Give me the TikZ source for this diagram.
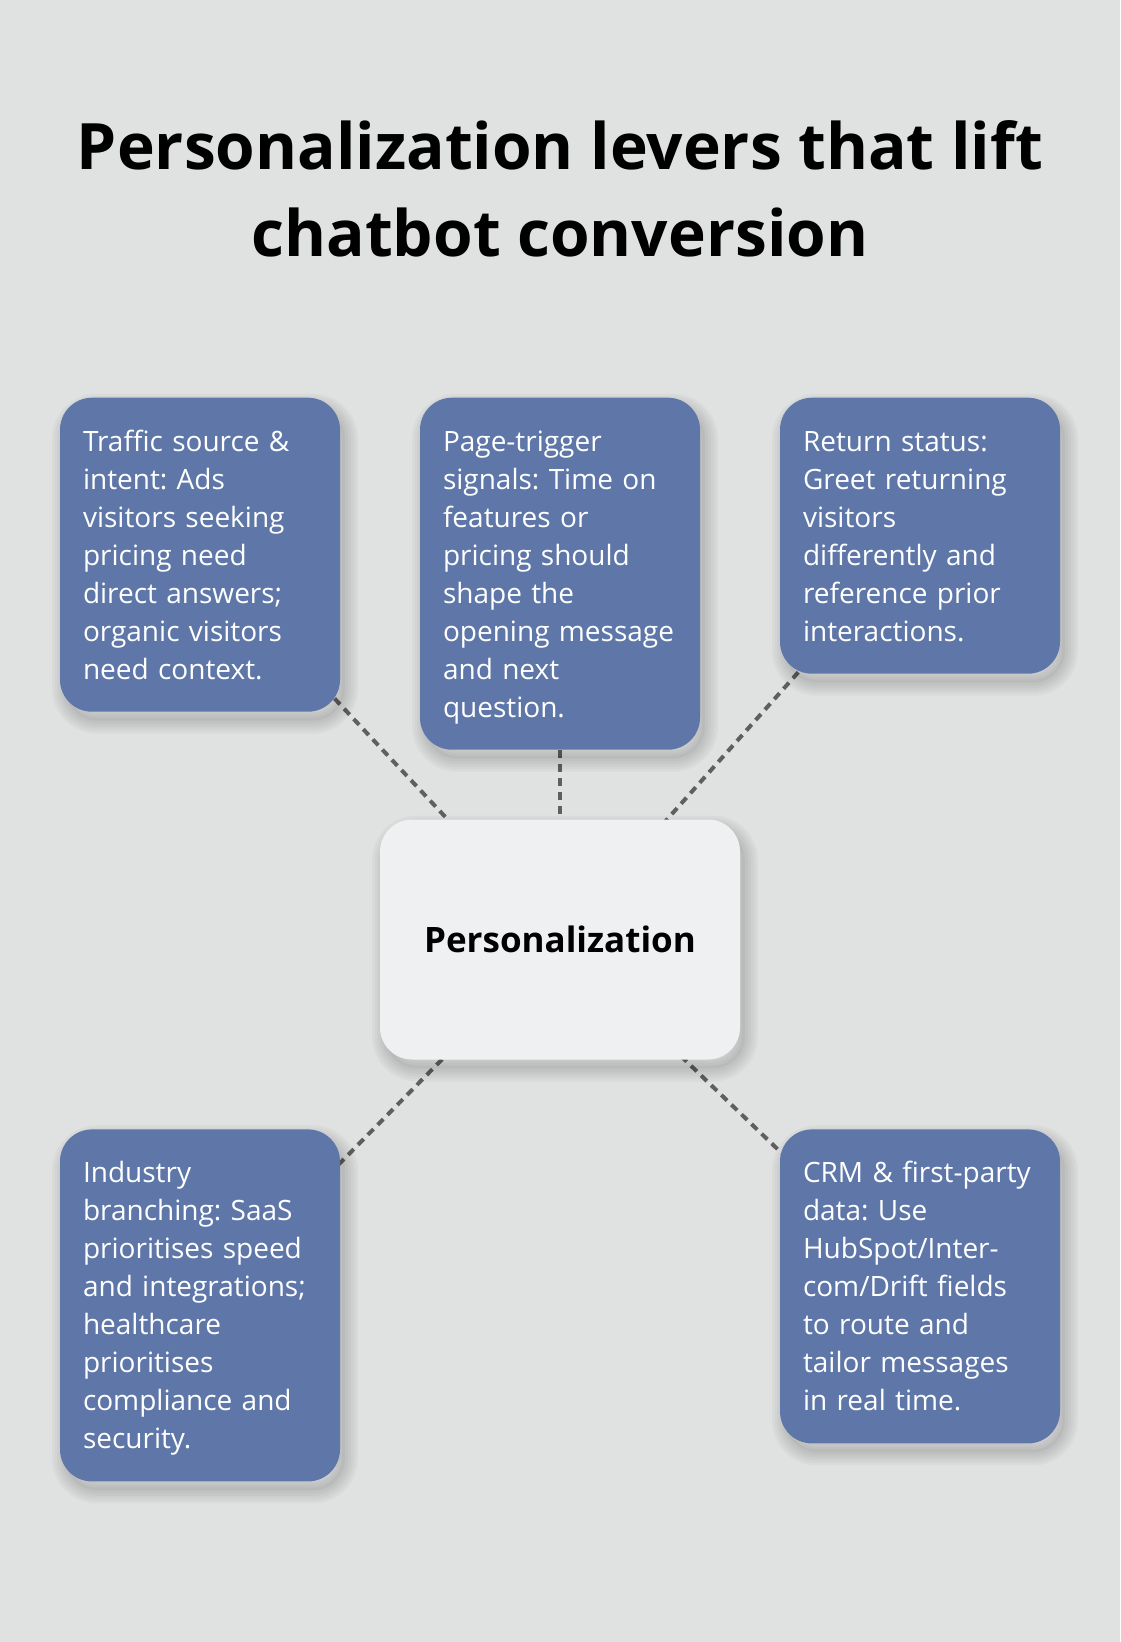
\documentclass[tikz,border=0pt]{standalone}
\usepackage{fontspec}
\setmainfont{Open Sans}
\frenchspacing
\usetikzlibrary{shadows}
\definecolor{pagebg}{HTML}{E0E2E1}
\definecolor{leverblue}{HTML}{5E77A8}
\definecolor{hubfill}{HTML}{EFF0F2}
\definecolor{linkgray}{HTML}{5F5F5F}
\pgfdeclarelayer{bgfill}
\pgfdeclarelayer{links}
\pgfsetlayers{bgfill,links,main}
\newcommand\levtop{\rule{0pt}{29.5pt}}
\newcommand\levbot{\rule[-8.5pt]{0pt}{8.5pt}}
\tikzset{
  shadowring/.style={general shadow={shadow xshift=5pt, shadow yshift=-9pt,
        draw=black, line width=#1, opacity=0.028}},
  softshadow/.style={shadowring=26pt, shadowring=21pt, shadowring=16pt,
      shadowring=11pt, shadowring=6pt,
      general shadow={shadow xshift=5pt, shadow yshift=-9pt, fill=black, opacity=0.04}},
  lever/.style={fill=leverblue, rounded corners=32pt, text=white,
      text width=234pt, inner xsep=23pt, inner ysep=24pt, align=left,
      outer sep=0pt, anchor=north, font=\fontsize{28}{38}\selectfont,
      execute at begin node=\levtop, execute at end node=\levbot, softshadow},
  hub/.style={fill=hubfill, rounded corners=32pt, minimum width=360pt,
      minimum height=240pt, outer sep=0pt,
      font=\bfseries\fontsize{35}{42}\selectfont, softshadow},
  link/.style={draw=linkgray, line width=4pt, dash pattern=on 8pt off 6pt}
}
\begin{document}
\begin{tikzpicture}[x=1pt, y=-1pt]
    \useasboundingbox (0,0) rectangle (1120,1642);
    \begin{pgfonlayer}{bgfill}
      \fill[pagebg] (0,0) rectangle (1120,1642);
    \end{pgfonlayer}

    \node[font=\bfseries\fontsize{64}{87}\selectfont, align=center] (title) at (560,189)
      {Personalization levers that lift\\chatbot conversion};

    \node[hub] (hub) at (560,939.5) {Personalization};

    \node[lever] (traffic) at (200,397.7)
      {Traffic source \&\\intent: Ads\\visitors seeking\\pricing need\\direct answers;\\organic visitors\\need context.};
    \node[lever] (trigger) at (560,397.7)
      {Page-trigger\\signals: Time on\\features or\\pricing should\\shape the\\opening message\\and next\\question.};
    \node[lever] (return) at (920,397.7)
      {Return status:\\Greet returning\\visitors\\differently and\\reference prior\\interactions.};
    \node[lever] (industry) at (200,1129.4)
      {Industry\\branching: SaaS\\prioritises speed\\and integrations;\\healthcare\\prioritises\\compliance and\\security.};
    \node[lever] (crm) at (920,1129.4)
      {CRM \& first-party\\data: Use\\HubSpot/Inter-\\com/Drift fields\\to route and\\tailor messages\\in real time.};

    % dashed spokes, hidden under the boxes
    \begin{pgfonlayer}{links}
      \foreach \lev in {traffic,trigger,return,industry,crm}
        \draw[link] (hub.center) -- (\lev.center);
    \end{pgfonlayer}
  \end{tikzpicture}
\end{document}
